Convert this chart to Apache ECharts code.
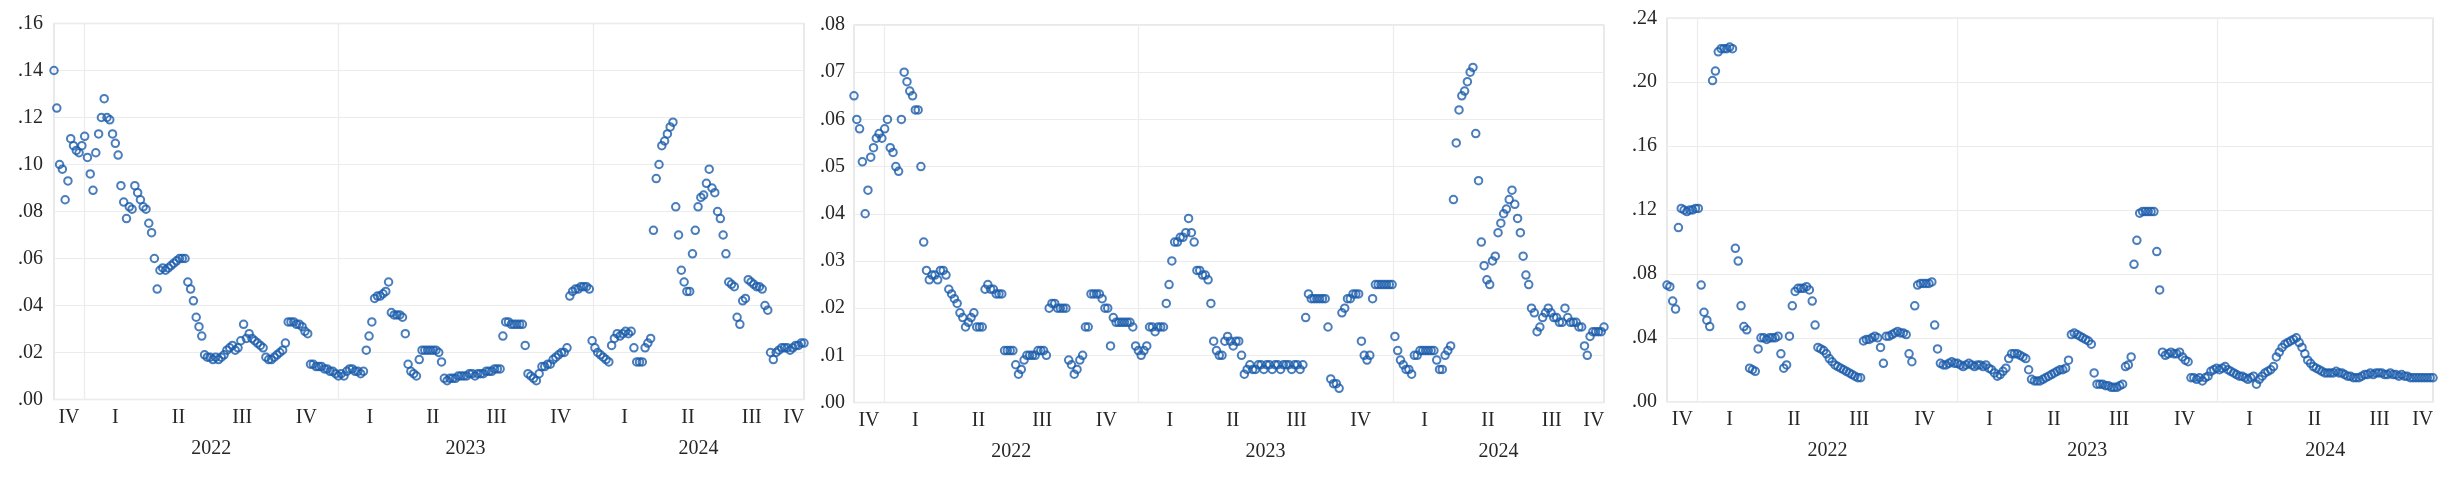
<!DOCTYPE html>
<html><head><meta charset="utf-8">
<script src="https://cdn.jsdelivr.net/npm/echarts@6/dist/echarts.min.js"></script>
<style>html,body{margin:0;padding:0;background:#fff}#c{width:2457px;height:491px}</style>
</head><body><div id="c"></div>
<script>
// ---- data (one reading every 4 calendar days, starting at startDate) ----
const startDate = '2021-11-19';
const endDate = '2024-10-30';
const stepDays = 4;
const quarterLabels = ['IV','I','II','III','IV','I','II','III','IV','I','II','III','IV'];
const yearLabels = ['2022','2023','2024'];
const yTickLabelsA = ['.00','.02','.04','.06','.08','.10','.12','.14','.16'];
const yTickLabelsB = ['.00','.01','.02','.03','.04','.05','.06','.07','.08'];
const yTickLabelsC = ['.00','.04','.08','.12','.16','.20','.24'];

const valuesA = [
.140,.124,.100,.098,.085,.093,.111,.108,.106,.105,
.108,.112,.103,.096,.089,.105,.113,.120,.128,.120,
.119,.113,.109,.104,.091,.084,.077,.082,.081,.091,
.088,.085,.082,.081,.075,.071,.060,.047,.055,.056,
.055,.056,.057,.058,.059,.060,.060,.060,.050,.047,
.042,.035,.031,.027,.019,.018,.018,.017,.018,.017,
.018,.019,.021,.022,.023,.021,.022,.025,.032,.026,
.028,.026,.025,.024,.023,.022,.018,.017,.017,.018,
.019,.020,.021,.024,.033,.033,.033,.032,.032,.031,
.029,.028,.015,.015,.014,.014,.014,.013,.013,.012,
.012,.011,.010,.011,.010,.012,.013,.013,.012,.012,
.011,.012,.021,.027,.033,.043,.044,.044,.045,.046,
.050,.037,.036,.036,.036,.035,.028,.015,.012,.011,
.010,.017,.021,.021,.021,.021,.021,.021,.020,.016,
.009,.008,.009,.009,.009,.010,.010,.010,.010,.011,
.011,.010,.011,.011,.011,.012,.012,.012,.013,.013,
.013,.027,.033,.033,.032,.032,.032,.032,.032,.023,
.011,.010,.009,.008,.011,.014,.014,.015,.015,.017,
.018,.019,.020,.020,.022,.044,.046,.047,.047,.048,
.048,.048,.047,.025,.022,.020,.019,.018,.017,.016,
.023,.026,.028,.027,.028,.029,.028,.029,.022,.016,
.016,.016,.022,.024,.026,.072,.094,.100,.108,.110,
.113,.116,.118,.082,.070,.055,.050,.046,.046,.062,
.072,.082,.086,.087,.092,.098,.090,.088,.080,.077,
.070,.062,.050,.049,.048,.035,.032,.042,.043,.051,
.050,.049,.048,.048,.047,.040,.038,.020,.017,.020,
.021,.022,.022,.022,.021,.022,.023,.023,.024,.024
];
const valuesB = [
.065,.060,.058,.051,.040,.045,.052,.054,.056,.057,
.056,.058,.060,.054,.053,.050,.049,.060,.070,.068,
.066,.065,.062,.062,.050,.034,.028,.026,.027,.027,
.026,.028,.028,.027,.024,.023,.022,.021,.019,.018,
.016,.017,.018,.019,.016,.016,.016,.024,.025,.024,
.024,.023,.023,.023,.011,.011,.011,.011,.008,.006,
.007,.009,.010,.010,.010,.010,.011,.011,.011,.010,
.020,.021,.021,.020,.020,.020,.020,.009,.008,.006,
.007,.009,.010,.016,.016,.023,.023,.023,.023,.022,
.020,.020,.012,.018,.017,.017,.017,.017,.017,.017,
.016,.012,.011,.010,.011,.012,.016,.016,.015,.016,
.016,.016,.021,.025,.030,.034,.034,.035,.035,.036,
.039,.036,.034,.028,.028,.027,.027,.026,.021,.013,
.011,.010,.010,.013,.014,.013,.012,.013,.013,.010,
.006,.007,.008,.007,.007,.008,.008,.007,.008,.008,
.007,.008,.008,.007,.008,.008,.008,.007,.008,.008,
.007,.008,.018,.023,.022,.022,.022,.022,.022,.022,
.016,.005,.004,.004,.003,.019,.020,.022,.022,.023,
.023,.023,.013,.010,.009,.010,.022,.025,.025,.025,
.025,.025,.025,.025,.014,.011,.009,.008,.007,.007,
.006,.010,.010,.011,.011,.011,.011,.011,.011,.009,
.007,.007,.010,.011,.012,.043,.055,.062,.065,.066,
.068,.070,.071,.057,.047,.034,.029,.026,.025,.030,
.031,.036,.038,.040,.041,.043,.045,.042,.039,.036,
.031,.027,.025,.020,.019,.015,.016,.018,.019,.020,
.019,.018,.018,.017,.017,.020,.018,.017,.017,.017,
.016,.016,.012,.010,.014,.015,.015,.015,.015,.016
];
const valuesC = [
.073,.072,.063,.058,.109,.121,.120,.119,.120,.120,
.121,.121,.073,.056,.051,.047,.201,.207,.219,.221,
.221,.221,.222,.221,.096,.088,.060,.047,.045,.021,
.020,.019,.033,.040,.040,.039,.040,.040,.040,.041,
.030,.021,.023,.041,.060,.069,.071,.071,.071,.072,
.070,.063,.048,.034,.033,.032,.030,.027,.025,.023,
.022,.021,.020,.019,.018,.017,.016,.015,.015,.038,
.039,.039,.040,.041,.040,.034,.024,.041,.041,.042,
.043,.044,.043,.043,.042,.030,.025,.060,.073,.074,
.074,.074,.074,.075,.048,.033,.024,.023,.023,.024,
.025,.024,.024,.023,.022,.023,.024,.023,.022,.023,
.023,.022,.023,.021,.020,.018,.016,.017,.019,.021,
.027,.030,.030,.030,.029,.028,.027,.020,.014,.013,
.013,.013,.014,.015,.016,.017,.018,.019,.020,.020,
.021,.026,.042,.043,.042,.041,.040,.039,.038,.036,
.018,.011,.011,.011,.010,.010,.009,.009,.009,.010,
.011,.022,.023,.028,.086,.101,.118,.119,.119,.119,
.119,.119,.094,.070,.031,.029,.030,.031,.030,.030,
.031,.028,.026,.025,.015,.015,.014,.015,.013,.015,
.016,.019,.020,.021,.020,.021,.022,.020,.019,.018,
.017,.016,.016,.015,.014,.015,.016,.011,.014,.016,
.018,.019,.020,.022,.028,.031,.034,.036,.037,.038,
.039,.040,.037,.034,.030,.026,.024,.022,.021,.020,
.019,.018,.018,.018,.018,.019,.018,.018,.017,.016,
.016,.015,.015,.015,.016,.017,.017,.018,.017,.018,
.018,.018,.017,.017,.018,.017,.017,.016,.017,.016,
.016,.015,.015,.015,.015,.015,.015,.015,.015,.015
];

// ---- calendar helpers (day numbers relative to startDate) ----
const DAY = 86400000;
const t0 = Date.parse(startDate + 'T00:00:00Z');
const dayOf = (y, m, d) => (Date.UTC(y, m - 1, d) - t0) / DAY;
const endDay = (Date.parse(endDate + 'T00:00:00Z') - t0) / DAY;

// quarter label positions: middle of the visible part of each quarter
const quarterMids = [];
{
  let y = 2021, q = 4;
  for (let k = 0; k < quarterLabels.length; k++) {
    const s = Math.max(0, dayOf(y, (q - 1) * 3 + 1, 1));
    const ny = q === 4 ? y + 1 : y, nq = q === 4 ? 1 : q + 1;
    const e = Math.min(endDay, dayOf(ny, (nq - 1) * 3 + 1, 1));
    quarterMids.push((s + e) / 2);
    y = ny; q = nq;
  }
}
const yearStarts = yearLabels.map(s => dayOf(+s, 1, 1));
const yearMids = yearLabels.map(s => {
  const a = Math.max(0, dayOf(+s, 1, 1)), b = Math.min(endDay, dayOf(+s + 1, 1, 1));
  return (a + b) / 2;
});

const FONT = "'Liberation Serif','Times New Roman',serif";
const TXT = '#262626';
const DOT = '#1c5cab';

function nearestLabel(v, positions, labels) {
  let best = 0;
  for (let i = 1; i < positions.length; i++)
    if (Math.abs(positions[i] - v) < Math.abs(positions[best] - v)) best = i;
  return labels[best];
}

const panels = [
  { grid: { left: 54, top: 23.5, width: 750, height: 376 }, values: valuesA, ticks: yTickLabelsA, yMax: 0.16, yStep: 0.02, yMargin: 11 },
  { grid: { left: 854, top: 25, width: 750, height: 377.5 }, values: valuesB, ticks: yTickLabelsB, yMax: 0.08, yStep: 0.01, yMargin: 9 },
  { grid: { left: 1667, top: 18.3, width: 766, height: 383.4 }, values: valuesC, ticks: yTickLabelsC, yMax: 0.24, yStep: 0.04, yMargin: 10 }
];

const option = { animation: false, backgroundColor: '#ffffff', grid: [], xAxis: [], yAxis: [], series: [] };

panels.forEach((p, k) => {
  option.grid.push(Object.assign({
    show: true, borderColor: '#e2e2e2', borderWidth: 1.5, backgroundColor: 'transparent',
    containLabel: false, outerBoundsMode: 'none'
  }, p.grid));
  // main x axis: data, year grid lines, quarter labels
  option.xAxis.push({
    type: 'value', gridIndex: k, min: 0, max: endDay, position: 'bottom',
    axisLine: { show: false },
    axisTick: { show: false, customValues: yearStarts },
    splitLine: { show: true, lineStyle: { color: '#ececec', width: 1.2 } },
    axisLabel: {
      customValues: quarterMids, margin: 8,
      fontFamily: FONT, fontSize: 20, color: TXT,
      formatter: v => nearestLabel(v, quarterMids, quarterLabels)
    }
  });
  // second x axis: year labels
  option.xAxis.push({
    type: 'value', gridIndex: k, min: 0, max: endDay, position: 'bottom',
    axisLine: { show: false }, axisTick: { show: false }, splitLine: { show: false },
    axisLabel: {
      customValues: yearMids, margin: 39,
      fontFamily: FONT, fontSize: 20, color: TXT,
      formatter: v => nearestLabel(v, yearMids, yearLabels)
    }
  });
  option.yAxis.push({
    type: 'value', gridIndex: k, min: 0, max: p.yMax, interval: p.yStep,
    axisLine: { show: false }, axisTick: { show: false },
    splitLine: { show: true, lineStyle: { color: '#ececec', width: 1.2 } },
    axisLabel: {
      margin: p.yMargin, fontFamily: FONT, fontSize: 20, color: TXT,
      formatter: v => p.ticks[Math.round(v / p.yStep)]
    }
  });
  option.series.push({
    type: 'scatter', xAxisIndex: 2 * k, yAxisIndex: k,
    symbol: 'circle', symbolSize: 7.5, silent: true,
    itemStyle: { color: 'rgba(255,255,255,0)', borderColor: DOT, borderWidth: 2 },
    emphasis: { disabled: true },
    data: p.values.map((v, i) => [i * stepDays, v])
  });
});

const chart = echarts.init(document.getElementById('c'), null, { renderer: 'canvas' });
chart.setOption(option);
</script>
</body></html>
